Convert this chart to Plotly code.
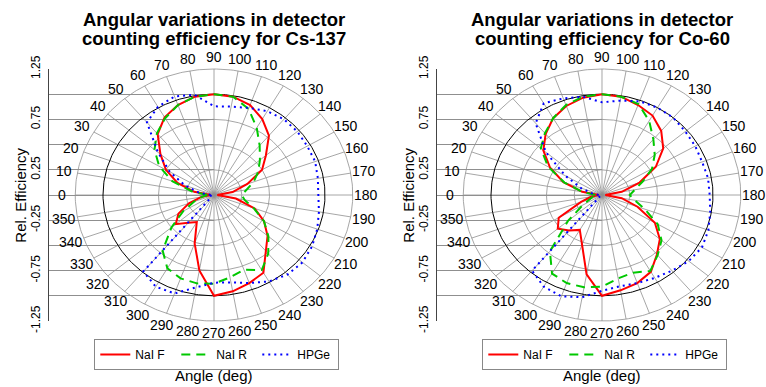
import numpy as np
import plotly.graph_objects as go

# ---------------- data ----------------
angle_deg = list(range(0, 360, 10))          # 0,10,...,350
angle_labels = [str(a) for a in angle_deg]

# Cs-137
cs_nai_f = [0.03, 0.18, 0.35, 0.50, 0.63, 0.79, 0.89, 0.95, 0.99, 1.00,
            0.99, 0.95, 0.87, 0.77, 0.61, 0.50, 0.32, 0.17, 0.03, 0.20,
            0.39, 0.52, 0.63, 0.73, 0.89, 0.93, 0.97, 1.00, 0.76, 0.51,
            0.31, 0.36, 0.45, 0.37, 0.24, 0.12]
cs_nai_r = [0.06, 0.20, 0.40, 0.57, 0.70, 0.80, 0.88, 0.95, 0.99, 1.00,
            0.99, 0.91, 0.77, 0.64, 0.54, 0.46, 0.38, 0.30, 0.25, 0.28,
            0.38, 0.52, 0.64, 0.76, 0.86, 0.79, 0.83, 0.88, 0.89, 0.88,
            0.84, 0.72, 0.50, 0.32, 0.19, 0.11]
cs_hpge = [0.03, 0.14, 0.28, 0.46, 0.66, 0.94, 1.01, 1.04, 1.01, 0.88,
           0.89, 0.92, 0.96, 0.98, 0.98, 0.97, 0.97, 0.95, 0.94, 0.96,
           0.99, 1.02, 1.04, 1.03, 0.99, 0.93, 0.88, 0.87, 0.93, 1.04,
           1.05, 0.99, 0.03, 0.03, 0.03, 0.03]

# Co-60
co_nai_f = [0.03, 0.18, 0.37, 0.54, 0.69, 0.79, 0.88, 0.94, 0.98, 1.00,
            0.99, 0.95, 0.91, 0.83, 0.72, 0.56, 0.36, 0.18, 0.03, 0.18,
            0.34, 0.55, 0.68, 0.77, 0.88, 0.93, 0.96, 1.00, 0.80, 0.52,
            0.40, 0.46, 0.52, 0.45, 0.20, 0.10]
co_nai_r = [0.06, 0.18, 0.36, 0.56, 0.72, 0.80, 0.88, 0.95, 0.99, 1.00,
            0.99, 0.96, 0.85, 0.72, 0.62, 0.52, 0.39, 0.30, 0.25, 0.30,
            0.41, 0.58, 0.70, 0.78, 0.87, 0.82, 0.84, 0.91, 0.93, 0.93,
            0.90, 0.73, 0.40, 0.20, 0.12, 0.08]
co_hpge = [0.03, 0.09, 0.20, 0.38, 0.66, 0.93, 1.05, 1.02, 0.99, 0.92,
           0.95, 0.99, 1.00, 1.00, 0.98, 0.97, 0.96, 0.97, 0.97, 0.99,
           1.02, 1.04, 1.02, 0.98, 0.95, 0.93, 0.92, 0.95, 1.03, 1.07,
           1.05, 0.98, 0.03, 0.03, 0.03, 0.03]

series_names = ["NaI F", "NaI R", "HPGe"]
titles = ["Angular variations in detector", "counting efficiency for Cs-137",
          "Angular variations in detector", "counting efficiency for Co-60"]

grid_radii = [0.25, 0.5, 0.75, 1.25]
ring_radii = [1.0]
label_radius = 1.37
y_ticks = [-1.25, -1.0, -0.75, -0.5, -0.25, 0.0, 0.25, 0.5, 0.75, 1.0, 1.25]
y_tick_labels = ["-1.25", "", "-0.75", "", "-0.25", "", "0.25", "", "0.75", "", "1.25"]

# ---------------- styling / layout constants ----------------
W, H = 766, 387
FONT = "Liberation Sans, Arial, Helvetica, sans-serif"
PX_X = 111.0                       # px per unit horizontally
Y_TOP, Y_BOT = 69, 321             # px of +1.25 / -1.25
PX_Y = (Y_BOT - Y_TOP) / 2.5       # px per unit vertically
Y_C = (Y_TOP + Y_BOT) / 2.0        # px of the centre
panels = [dict(axis_px=49.3, center_px=214.0, right_px=383.0),
          dict(axis_px=437.3, center_px=602.0, right_px=766.0)]
GRID_COL = "#8f8f8f"
colors = ["#ff0000", "#00c800", "#0000ff"]
dashes = ["solid", "9px,6px", "2px,4px"]


def to_xy(theta_deg, r):
    t = np.radians(np.asarray(theta_deg, dtype=float))
    r = np.asarray(r, dtype=float)
    return -r * np.cos(t), r * np.sin(t)


fig = go.Figure()
annotations = []

for p, (pan, data, legend_id) in enumerate(zip(
        panels, [[cs_nai_f, cs_nai_r, cs_hpge], [co_nai_f, co_nai_r, co_hpge]],
        ["legend", "legend2"])):
    xa = "x" if p == 0 else "x2"
    ya_tick = "y" if p == 0 else "y2"
    ya = "y3" if p == 0 else "y4"

    # empty trace so the tick axis subplot exists
    fig.add_trace(go.Scatter(x=[], y=[], xaxis=xa, yaxis=ya_tick, showlegend=False,
                             hoverinfo="skip"))
    # spokes
    sx, sy = [], []
    for a in angle_deg:
        x1, y1 = to_xy([a], [max(grid_radii)])
        sx += [0, x1[0], None]
        sy += [0, y1[0], None]
    fig.add_trace(go.Scatter(x=sx, y=sy, mode="lines", xaxis=xa, yaxis=ya,
                             line=dict(color=GRID_COL, width=0.8),
                             hoverinfo="skip", showlegend=False))
    # grid circles
    fine = np.linspace(0, 360, 361)
    for rr in grid_radii:
        cx, cy = to_xy(fine, np.full_like(fine, rr))
        fig.add_trace(go.Scatter(x=cx, y=cy, mode="lines", xaxis=xa, yaxis=ya,
                                 line=dict(color=GRID_COL, width=0.8),
                                 hoverinfo="skip", showlegend=False))
    for rr in ring_radii:
        cx, cy = to_xy(fine, np.full_like(fine, rr))
        fig.add_trace(go.Scatter(x=cx, y=cy, mode="lines", xaxis=xa, yaxis=ya,
                                 line=dict(color="#000000", width=1),
                                 hoverinfo="skip", showlegend=False))
    # angle labels (annotations in data coordinates)
    lx, ly = to_xy(angle_deg, [label_radius] * len(angle_deg))
    for txt, ax_, ay_ in zip(angle_labels, lx, ly):
        annotations.append(dict(text=txt, x=float(ax_), y=float(ay_), xref=xa, yref=ya,
                                xanchor="center", yanchor="middle", showarrow=False,
                                font=dict(family=FONT, size=14, color="#000")))
    # data curves
    for name, vals, col, dsh in zip(series_names, data, colors, dashes):
        th = angle_deg + [angle_deg[0] + 360]
        rv = vals + [vals[0]]
        cx, cy = to_xy(th, rv)
        fig.add_trace(go.Scatter(x=cx, y=cy, mode="lines", name=name, xaxis=xa, yaxis=ya,
                                 line=dict(color=col, width=2, dash=dsh),
                                 legend=legend_id))

layout = dict(
    width=W, height=H, autosize=False,
    margin=dict(l=0, r=0, t=0, b=0, pad=0),
    paper_bgcolor="white", plot_bgcolor="rgba(0,0,0,0)",
    template="none", font=dict(family=FONT, color="#000"),
    showlegend=True,
)
ydom = [(H - Y_BOT) / H, (H - Y_TOP) / H]
data_yrange = [-(H - Y_C) / PX_Y, Y_C / PX_Y]
for p, pan in enumerate(panels):
    sfx = "" if p == 0 else "2"
    dsfx = "3" if p == 0 else "4"
    xr = [(pan["axis_px"] - pan["center_px"]) / PX_X, (pan["right_px"] - pan["center_px"]) / PX_X]
    layout["xaxis" + sfx] = dict(domain=[pan["axis_px"] / W, pan["right_px"] / W], range=xr,
                                 visible=False, fixedrange=True, automargin=False)
    # tick / frame axis
    layout["yaxis" + sfx] = dict(domain=ydom, range=[-1.25, 1.25], anchor="x" + sfx,
                                 tickvals=y_ticks, ticktext=y_tick_labels,
                                 ticks="inside", ticklen=pan["center_px"] - pan["axis_px"],
                                 tickcolor=GRID_COL, tickwidth=0.8,
                                 showline=True, linecolor="#444", linewidth=1,
                                 showgrid=False, zeroline=False, tickangle=-90,
                                 tickfont=dict(family=FONT, size=12, color="#000"),
                                 ticklabelstandoff=4, automargin=False, fixedrange=True)
    # data axis (same scale, full height, hidden)
    layout["yaxis" + dsfx] = dict(domain=[0, 1], range=data_yrange, anchor="x" + sfx,
                                  visible=False, fixedrange=True, automargin=False)
    cxp = pan["center_px"] / W
    annotations += [
        dict(text="<b>%s</b>" % titles[2 * p], x=cxp, y=1 - 19.5 / H, xref="paper", yref="paper",
             xanchor="center", yanchor="middle", showarrow=False, font=dict(size=18.5, family=FONT)),
        dict(text="<b>%s</b>" % titles[2 * p + 1], x=cxp, y=1 - 39 / H, xref="paper", yref="paper",
             xanchor="center", yanchor="middle", showarrow=False, font=dict(size=18.5, family=FONT)),
        dict(text="Angle (deg)", x=cxp, y=1 - 375.5 / H, xref="paper", yref="paper",
             xanchor="center", yanchor="middle", showarrow=False, font=dict(size=15, family=FONT)),
        dict(text="Rel. Efficiency", x=(pan["axis_px"] - 29.6) / W, y=1 - 195 / H,
             xref="paper", yref="paper", textangle=-90,
             xanchor="center", yanchor="middle", showarrow=False, font=dict(size=15, family=FONT)),
    ]
    lg = dict(orientation="h", x=(pan["axis_px"] + 45) / W, xanchor="left",
              y=1 - 339 / H, yanchor="top", bordercolor="#888", borderwidth=1,
              bgcolor="white", font=dict(size=12, family=FONT), itemwidth=30,
              entrywidth=36, traceorder="normal")
    layout["legend" if p == 0 else "legend2"] = lg
layout["annotations"] = annotations
fig.update_layout(**layout)

fig.write_html("out.html", config={"displayModeBar": False},
               post_script="document.body.style.margin='0px';document.body.style.padding='0px';"
                           "document.documentElement.style.overflow='hidden';")
